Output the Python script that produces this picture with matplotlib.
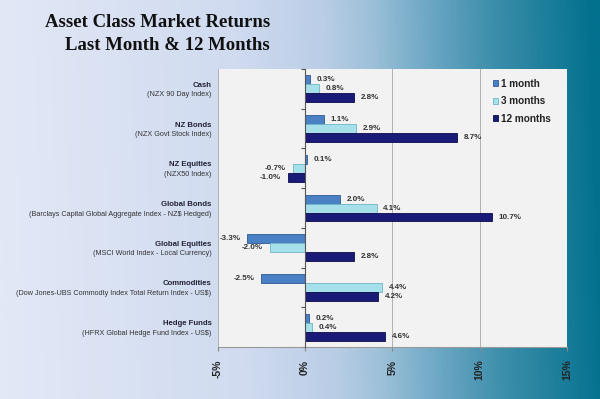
import numpy as np
import matplotlib
matplotlib.use("Agg")
import matplotlib.pyplot as plt
from matplotlib.colors import LinearSegmentedColormap
from matplotlib.transforms import blended_transform_factory

# Data
names = ["Cash", "NZ Bonds", "NZ Equities", "Global Bonds",
         "Global Equities", "Commodities", "Hedge Funds"]
indices = ["(NZX 90 Day Index)", "(NZX Govt Stock Index)", "(NZX50 Index)",
           "(Barclays Capital Global Aggregate Index - NZ$ Hedged)",
           "(MSCI World Index - Local Currency)",
           "(Dow Jones-UBS Commodty Index Total Return Index - US$)",
           "(HFRX Global Hedge Fund Index - US$)"]
one_month = [0.3, 1.1, 0.1, 2.0, -3.3, -2.5, 0.2]
three_months = [0.8, 2.9, -0.7, 4.1, -2.0, 4.4, 0.4]
twelve_months = [2.8, 8.7, -1.0, 10.7, 2.8, 4.2, 4.6]
series_names = ["1 month", "3 months", "12 months"]
xticks = [-5, 0, 5, 10, 15]

colors = ["#4a80c4", "#a6e0ea", "#1a1a78"]
edges = ["#2d5a94", "#6fb6c4", "#0c0c4a"]
sans = "Liberation Sans"

fig = plt.figure(figsize=(6, 3.99), dpi=100)

# Background gradient
bg = fig.add_axes([0, 0, 1, 1], zorder=-10)
cmap = LinearSegmentedColormap.from_list(
    "bg", [(0, "#e2e8f6"), (0.4, "#d0dbf0"), (0.55, "#b9cde6"),
           (0.63, "#9cc0d8"), (0.73, "#6aa6c4"), (0.83, "#3d8fab"),
           (1.0, "#02718e")])
xx = np.linspace(0, 1, 400)
yy = np.linspace(0, 1, 200)
X, Y = np.meshgrid(xx, yy)
bg.imshow(X + 0.02 * (Y - 0.5), cmap=cmap, aspect="auto", extent=[0, 1, 0, 1],
          origin="lower", vmin=0, vmax=1)
bg.axis("off")

# Title
fig.text(0.45, 0.943, "Asset Class Market Returns", ha="right", va="center",
         family="Liberation Serif", weight="bold", fontsize=13.5, color="#111111")
fig.text(0.45, 0.885, "Last Month & 12 Months", ha="right", va="center",
         family="Liberation Serif", weight="bold", fontsize=13.5, color="#111111")

ax = fig.add_axes([0.363, 0.130, 0.582, 0.697])
ax.set_facecolor("#f2f2f2")

n = len(names)
ypos = np.arange(n)
h = 0.225
series = [one_month, three_months, twelve_months]
for i, vals in enumerate(series):
    y = ypos + (i - 1) * h
    ax.barh(y, vals, height=h, color=colors[i], edgecolor=edges[i],
            linewidth=0.6, label=series_names[i], zorder=3)
    for yy_, v in zip(y, vals):
        if v >= 0:
            ax.text(v + 0.38, yy_, f"{v:.1f}%", ha="left", va="center",
                    fontsize=5.8, weight="bold", color="#333333", zorder=4,
                    family=sans)
        else:
            ax.text(v - 0.4, yy_, f"{v:.1f}%", ha="right", va="center",
                    fontsize=5.8, weight="bold", color="#333333", zorder=4,
                    family=sans)

ax.set_xlim(-5, 15)
ax.set_ylim(n - 0.5, -0.5)
ax.set_xticks(xticks)
ax.set_xticklabels([f"{t}%" for t in xticks], rotation=90, fontsize=7.5,
                   weight="bold", color="#222222", family=sans)
ax.xaxis.grid(True, color="#b0b0b0", linewidth=0.7, zorder=0)
ax.tick_params(axis="x", length=3, color="#888888", pad=6)

# Category axis at zero
ax.spines["left"].set_position(("data", 0))
ax.spines["left"].set_color("#555555")
ax.spines["left"].set_zorder(5)
ax.spines["top"].set_visible(False)
ax.spines["right"].set_visible(False)
ax.spines["bottom"].set_color("#999999")
ax.set_yticks(np.arange(n + 1) - 0.5)
ax.set_yticklabels([])
ax.tick_params(axis="y", length=3, color="#555555", direction="out")

# Category labels
trans = blended_transform_factory(ax.transAxes, ax.transData)
for k in range(n):
    ax.text(-0.018, k - 0.09, names[k], transform=trans, ha="right",
            va="center", fontsize=5.6, weight="bold", color="#222233",
            family=sans)
    ax.text(-0.018, k + 0.15, indices[k], transform=trans, ha="right",
            va="center", fontsize=5.2, color="#333333", family=sans)

leg = ax.legend(loc="upper right", frameon=False, prop={"family": sans,
                "size": 7.2, "weight": "bold"},
                handlelength=0.55, handleheight=0.55, handletextpad=0.3,
                labelspacing=0.75, borderpad=0, borderaxespad=0,
                bbox_to_anchor=(0.955, 0.965))
for t in leg.get_texts():
    t.set_color("#222222")

fig.savefig("out.png", dpi=100)
